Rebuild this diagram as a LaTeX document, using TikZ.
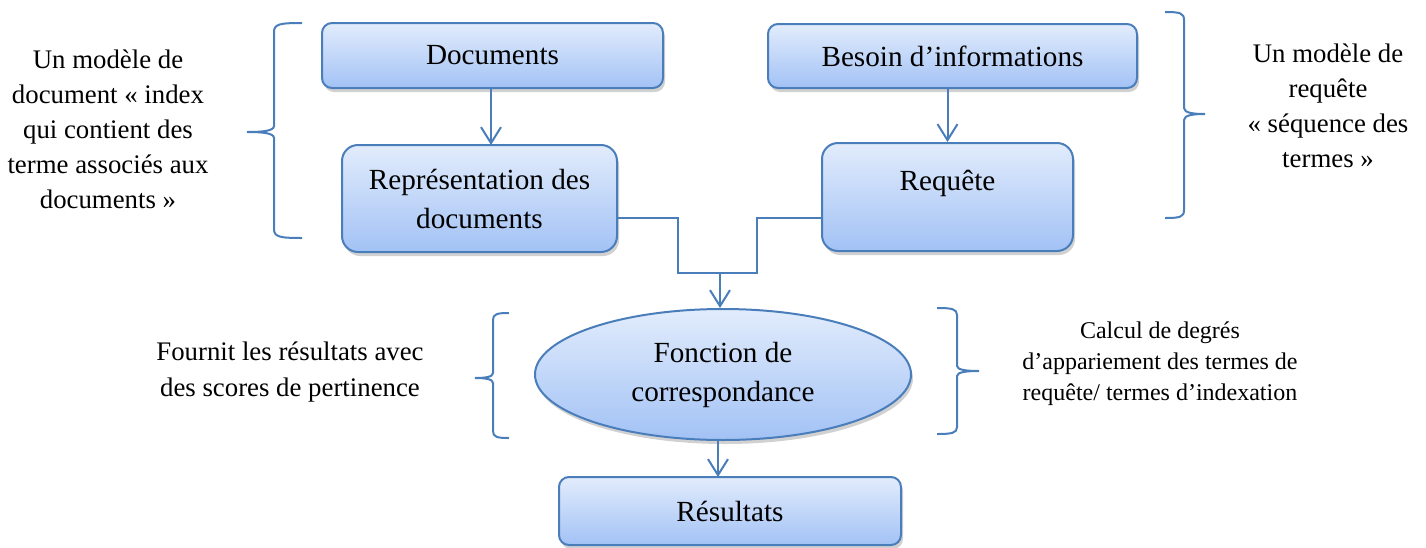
\documentclass[tikz,border=0pt]{standalone}
\usepackage{fontspec}
\setmainfont{Liberation Serif}
\usetikzlibrary{arrows.meta,shapes.geometric,shadows}

\definecolor{edge}{RGB}{74,126,187}
\definecolor{filltop}{RGB}{226,236,252}
\definecolor{fillbot}{RGB}{162,194,245}

\tikzset{
  x=0.5pt, y=-0.5pt,
  flowbox/.style={draw=edge, line width=1pt, top color=filltop, bottom color=fillbot,
    inner sep=0pt, align=center, font=\fontsize{14.6}{19.5}\selectfont,
    drop shadow={shadow xshift=1pt, shadow yshift=-2pt, opacity=0.18, fill=black}},
  roundbox/.style={flowbox, rectangle, rounded corners=5pt},
  tallbox/.style={flowbox, rectangle, rounded corners=8pt},
  ovalbox/.style={flowbox, ellipse},
  link/.style={draw=edge, line width=1pt},
  flow/.style={link, -{Straight Barb[length=8pt,width=10pt,line width=1pt]}},
  curly/.style={draw=edge, line width=1pt},
  note/.style={align=center, inner sep=0pt, font=\fontsize{13.4}{17.5}\selectfont},
  smallnote/.style={align=center, inner sep=0pt, font=\fontsize{12}{15.5}\selectfont},
  plain/.style={inner sep=0pt, font=\fontsize{14.6}{19.5}\selectfont}
}

\begin{document}
\begin{tikzpicture}
\useasboundingbox (0,0) rectangle (1426,547);

% boxes
\node[roundbox, minimum width=170.5pt, minimum height=32.5pt] (docs) at (492.5,55.5) {Documents};
\node[roundbox, minimum width=184.5pt, minimum height=32pt] (need) at (952.5,56) {Besoin d’informations};
\node[tallbox, minimum width=137.5pt, minimum height=53.5pt] (rep) at (479.5,198.5) {Représentation des\\documents};
\node[tallbox, minimum width=125.5pt, minimum height=54pt] (req) at (947.5,197) {};
\node[plain] (reqtext) at (947.5,183) {Requête};
\node[ovalbox, minimum width=188pt, minimum height=65.5pt] (match) at (723,374.5) {Fonction de\\correspondance};
\node[roundbox, minimum width=171pt, minimum height=34pt] (res) at (730,511) {Résultats};

% connectors: the two branches meet on a short bar, then feed the matching step
\coordinate (barleft) at (678,273);
\coordinate (barright) at (757,273);
\coordinate (join) at (720,273);
\draw[flow] (491,88) -- (491,145);
\draw[flow] (req.north |- need.south) -- (req.north);
\draw[link] (rep.east |- 0,218) -| (barleft) -- (barright) |- (req.west |- 0,218);
\draw[flow] (join) -- (join |- match.north);
\draw[flow] (718,440) -- (718,477);

% braces
\draw[curly] (302,23) .. controls (280,23) and (274,24) .. (274,32) -- (274,126)
  .. controls (274,131) and (262,132) .. (247,132)
  .. controls (262,132) and (274,133) .. (274,138) -- (274,229)
  .. controls (274,237) and (280,238) .. (302,238);
\draw[curly] (1165,12) .. controls (1180,12) and (1184,13) .. (1184,20) -- (1184,108)
  .. controls (1184,113) and (1194,114) .. (1205,114)
  .. controls (1194,114) and (1184,115) .. (1184,120) -- (1184,210)
  .. controls (1184,217) and (1180,218) .. (1165,218);
\draw[curly] (509,313) .. controls (497,313) and (493,314) .. (493,320) -- (493,373)
  .. controls (493,377) and (485,378) .. (475,378)
  .. controls (485,378) and (493,379) .. (493,383) -- (493,431)
  .. controls (493,437) and (497,438) .. (509,438);
\draw[curly] (937,308) .. controls (952,308) and (957,309) .. (957,315) -- (957,366)
  .. controls (957,370) and (967,371) .. (979,371)
  .. controls (967,371) and (957,372) .. (957,376) -- (957,427)
  .. controls (957,433) and (952,434) .. (937,434);

% side notes
\node[note] (docmodel) at (108,129) {Un modèle de\\document « index\\qui contient des\\terme associés aux\\documents »};
\node[note] (reqmodel) at (1328,106) {Un modèle de\\requête\\« séquence des\\termes »};
\node[note, font=\fontsize{13.4}{18}\selectfont] (scores) at (290,372) {Fournit les résultats avec\\des scores de pertinence};
\node[smallnote] (degree) at (1160,364) {Calcul de degrés\\d’appariement des termes de\\requête/ termes d’indexation};
\end{tikzpicture}
\end{document}
